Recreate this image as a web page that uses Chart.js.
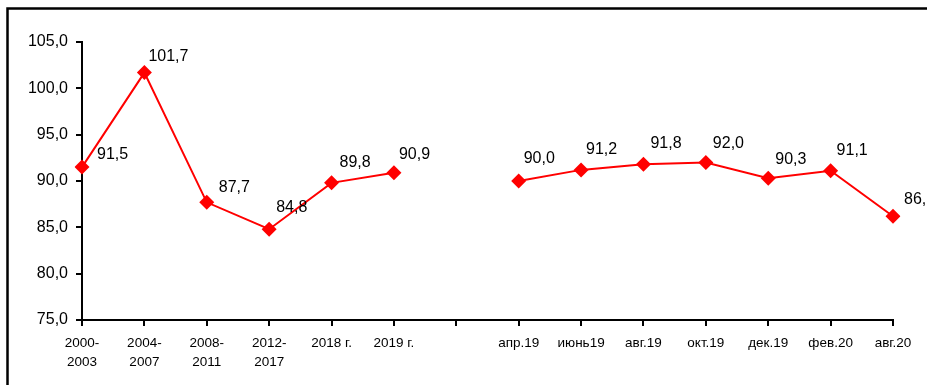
<!DOCTYPE html>
<html>
<head>
<meta charset="utf-8">
<script src="https://cdn.jsdelivr.net/npm/chart.js@4.4.0/dist/chart.umd.min.js"></script>
<style>
  html, body { margin: 0; padding: 0; background: #fff; }
  #wrap { width: 927px; height: 385px; overflow: hidden; }
</style>
</head>
<body>
<div id="wrap"><canvas id="chart" width="927" height="385"></canvas></div>
<script>
// Категории (пустая – разрыв между годами и месяцами)
const categories = [
  ["2000-", "2003"], ["2004-", "2007"], ["2008-", "2011"], ["2012-", "2017"],
  "2018 г.", "2019 г.", "",
  "апр.19", "июнь19", "авг.19", "окт.19", "дек.19", "фев.20", "авг.20"
];
const values = [91.5, 101.7, 87.7, 84.8, 89.8, 90.9, null, 90.0, 91.2, 91.8, 92.0, 90.3, 91.1, 86.2];
const yMin = 75, yMax = 105, yStep = 5;

// сдвиг подписей относительно точки (только оформление)
const labelNudge = [
  [15, -8], [4, -12], [12, -10], [7, -17], [8, -16], [5, -14], [0, 0],
  [5, -18], [5, -16], [7, -16], [7, -14], [7, -14], [6, -16], [11, -12]
];

const FONT = "'Liberation Sans', Arial, sans-serif";
const fmt = v => v.toFixed(1).replace(".", ",");

// рамка вокруг диаграммы
const framePlugin = {
  id: "frame",
  beforeDraw(chart) {
    const ctx = chart.ctx;
    ctx.save();
    ctx.fillStyle = "#fff";
    ctx.fillRect(0, 0, chart.width, chart.height);
    ctx.strokeStyle = "#000";
    ctx.lineWidth = 2.5;
    ctx.strokeRect(7.5, 8.5, 1200, 1200);
    ctx.restore();
  }
};

// подписи значений
const valueLabels = {
  id: "valueLabels",
  afterDatasetsDraw(chart) {
    const ctx = chart.ctx;
    const meta = chart.getDatasetMeta(0);
    ctx.save();
    ctx.font = "16px " + FONT;
    ctx.fillStyle = "#000";
    ctx.textAlign = "left";
    ctx.textBaseline = "alphabetic";
    meta.data.forEach((pt, i) => {
      const v = values[i];
      if (v === null) return;
      const [dx, dy] = labelNudge[i];
      ctx.fillText(fmt(v), pt.x + dx, pt.y + dy);
    });
    ctx.restore();
  }
};

new Chart(document.getElementById("chart"), {
  type: "line",
  data: {
    labels: categories,
    datasets: [{
      data: values,
      borderColor: "#ff0000",
      backgroundColor: "#ff0000",
      borderWidth: 2,
      pointStyle: "rectRot",
      pointRadius: 7.5,
      pointHoverRadius: 7.5,
      pointBorderWidth: 0,
      spanGaps: false,
      tension: 0
    }]
  },
  options: {
    responsive: false,
    animation: false,
    layout: { padding: { top: 42, right: 34, bottom: 0, left: 0 } },
    plugins: {
      legend: { display: false },
      tooltip: { enabled: false }
    },
    scales: {
      x: {
        offset: false,
        grid: { display: true, drawOnChartArea: false, drawTicks: true, tickLength: 6, color: "#000", lineWidth: 2, offset: false },
        border: { color: "#000", width: 2 },
        ticks: {
          color: "#000",
          font: { family: FONT, size: 13.5, lineHeight: 1.4 },
          padding: 8,
          maxRotation: 0,
          autoSkip: false
        },
        afterFit(scale) { scale.height = 65; }
      },
      y: {
        min: yMin,
        max: yMax,
        grid: { display: true, drawOnChartArea: false, drawTicks: true, tickLength: 6, color: "#000", lineWidth: 2 },
        border: { color: "#000", width: 2 },
        ticks: {
          stepSize: yStep,
          color: "#000",
          font: { family: FONT, size: 16 },
          padding: 8,
          callback: v => fmt(v)
        },
        afterFit(scale) { scale.width = 82; }
      }
    }
  },
  plugins: [framePlugin, valueLabels]
});
</script>
</body>
</html>
